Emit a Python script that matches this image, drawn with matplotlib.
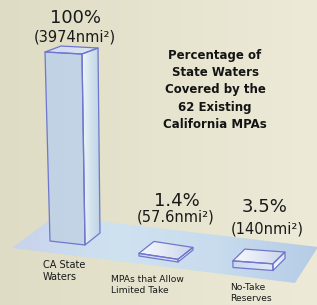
import numpy as np
import matplotlib
matplotlib.use("Agg")
import matplotlib.pyplot as plt
from matplotlib.patches import Polygon
from matplotlib.colors import LinearSegmentedColormap

# ---- data ----
categories = ["CA State\nWaters", "MPAs that Allow\nLimited Take", "No-Take\nReserves"]
percent = [100, 1.4, 3.5]
area_nmi2 = ["3974", "57.6", "140"]
pct_labels = ["100%", "1.4%", "3.5%"]
title_lines = ["Percentage of", "State Waters", "Covered by the", "62 Existing", "California MPAs"]

W, H = 317, 305
fig = plt.figure(figsize=(W / 100, H / 100), dpi=100)
ax = fig.add_axes([0, 0, 1, 1])
ax.set_xlim(0, W)
ax.set_ylim(H, 0)
ax.axis("off")

def c(r, g, b):
    return (r / 255, g / 255, b / 255)

# background gradient
bg = LinearSegmentedColormap.from_list("bg", [c(222, 220, 196), c(230, 228, 206), c(237, 234, 216)])
ax.imshow(np.linspace(0, 1, 256)[None, :], cmap=bg, extent=[0, W, H, 0], aspect="auto", zorder=0)

def grad_poly(verts, colors, zorder, edge=None, lw=0.9, horizontal=True):
    xs = [v[0] for v in verts]
    ys = [v[1] for v in verts]
    x0, x1, y0, y1 = min(xs), max(xs), min(ys), max(ys)
    cm = LinearSegmentedColormap.from_list("g", colors)
    arr = np.linspace(0, 1, 128)[None, :] if horizontal else np.linspace(0, 1, 128)[:, None]
    im = ax.imshow(arr, cmap=cm, extent=[x0, x1 + 0.01, y1 + 0.01, y0], aspect="auto", zorder=zorder,
                   interpolation="bilinear")
    p = Polygon(verts, closed=True, facecolor="none", edgecolor="none")
    ax.add_patch(p)
    im.set_clip_path(p)
    if edge is not None:
        ax.add_patch(Polygon(verts, closed=True, facecolor="none", edgecolor=edge, lw=lw,
                             zorder=zorder + 0.1, joinstyle="round"))

# floor
floor = [(12, 248), (55, 216), (318, 247), (295, 283)]
grad_poly(floor, [c(200, 210, 236), c(206, 226, 240), c(200, 220, 238), c(182, 204, 230)], 1)

# bars (geometry / layout)
base_fl = [(50, 241), (139, 256), (233, 267.5)]
base_w = [(35, 4), (39, 6), (40, 3)]
base_d = [(15, -12), (15, -12), (12, -12)]
px_per_pct = 1.89
edge_col = c(112, 118, 205)

for i, val in enumerate(percent):
    h = val * px_per_pct
    t = h / (100 * px_per_pct)
    bx, by = base_fl[i]
    wx, wy = base_w[i]
    dx, dy = base_d[i]
    FLb = (bx, by)
    FRb = (bx + wx, by + wy)
    BRb = (FRb[0] + dx, FRb[1] + dy)
    tx = bx - 5 * t
    ty = by - h
    wxt, wyt = wx + 2 * t, wy - 2 * t
    dxt, dyt = dx + 1 * t, dy + 6 * t
    FLt = (tx, ty)
    FRt = (tx + wxt, ty + wyt)
    BRt = (FRt[0] + dxt, FRt[1] + dyt)
    BLt = (tx + dxt, ty + dyt)
    z = 3 + i
    if i == 0:
        grad_poly([FLb, FRb, FRt, FLt], [c(192, 210, 228), c(194, 212, 230)], z, edge_col)
        grad_poly([FRb, BRb, BRt, FRt], [c(240, 244, 248), c(210, 226, 238), c(186, 210, 228)], z, edge_col)
        grad_poly([FLt, FRt, BRt, BLt], [c(205, 218, 238), c(220, 230, 244)], z, edge_col)
    else:
        grad_poly([FLb, FRb, FRt, FLt], [c(205, 214, 240), c(225, 232, 248)], z, edge_col)
        grad_poly([FRb, BRb, BRt, FRt], [c(246, 248, 252), c(215, 225, 245)], z, edge_col)
        grad_poly([FLt, FRt, BRt, BLt], [c(246, 248, 252), c(226, 232, 244), c(200, 212, 236)], z, edge_col)

# value labels
txt = c(25, 25, 25)
pct_pos = [(75, 18), (177, 201), (265, 207)]
area_pos = [(75, 37), (176, 217), (267, 229)]
for i in range(3):
    ax.text(*pct_pos[i], pct_labels[i], ha="center", va="center", fontsize=13, color=txt,
            family="DejaVu Sans", zorder=10)
    ax.text(*area_pos[i], "(" + area_nmi2[i] + "nmi\u00b2)", ha="center", va="center", fontsize=10.5,
            color=txt, family="DejaVu Sans", zorder=10)

# category labels
cat_pos = [(43, 271), (111, 285), (230, 293)]
cat_size = [7, 6.6, 6.6]
for i in range(3):
    ax.text(*cat_pos[i], categories[i], ha="left", va="center", fontsize=cat_size[i], color=txt,
            family="DejaVu Sans", linespacing=1.15, zorder=10)

# title block
for k, line in enumerate(title_lines):
    ax.text(215, 56 + 17 * k, line, ha="center", va="center", fontsize=8.5, fontweight="bold",
            color=c(20, 20, 20), family="DejaVu Sans", zorder=10)

fig.savefig("out.png", dpi=100)
